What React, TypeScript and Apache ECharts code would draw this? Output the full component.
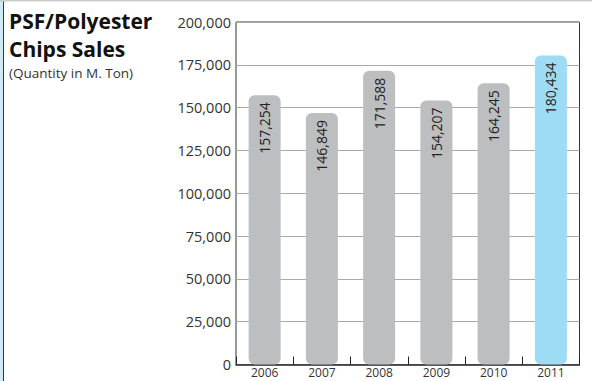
import React, { useEffect, useRef } from "react";
import * as echarts from "echarts";

const categories = ["2006", "2007", "2008", "2009", "2010", "2011"];
const salesValues = [157254, 146849, 171588, 154207, 164245, 180434];
const barColors = ["#bdbebf", "#bdbebf", "#bdbebf", "#bdbebf", "#bdbebf", "#9edcf5"];
const yTicks = [0, 25000, 50000, 75000, 100000, 125000, 150000, 175000, 200000];

const fmt = (v: number) => v.toLocaleString("en-US");

export default function App() {
  const ref = useRef<HTMLDivElement>(null);
  useEffect(() => {
    if (!ref.current) return;
    const chart = echarts.init(ref.current, undefined, { renderer: "svg" });
    const font = "'Open Sans', 'Noto Sans', sans-serif";
    chart.setOption({
      animation: false,
      textStyle: { fontFamily: font },
      grid: {
        left: 236,
        right: 12.5,
        top: 22,
        bottom: 16.5,
        show: true,
        borderColor: "#333",
        borderWidth: 1,
      },
      graphic: [
        { type: "rect", shape: { x: 0, y: 0, width: 3, height: 381 }, style: { fill: "#cfe9f6" } },
        { type: "rect", shape: { x: 3, y: 0, width: 1, height: 381 }, style: { fill: "#3a3a3a" } },
        { type: "rect", shape: { x: 0, y: 0, width: 592, height: 1.5 }, style: { fill: "#cccccc" } },
        {
          type: "text",
          left: 9,
          top: 10,
          style: { text: "PSF/Polyester", font: `bold 21px ${font}`, fill: "#111" },
        },
        {
          type: "text",
          left: 9,
          top: 38,
          style: { text: "Chips Sales", font: `bold 21px ${font}`, fill: "#111" },
        },
        {
          type: "text",
          left: 9,
          top: 66,
          style: { text: "(Quantity in M. Ton)", font: `13.5px ${font}`, fill: "#333" },
        },
      ],
      xAxis: {
        type: "category",
        data: categories,
        axisLine: { show: true, lineStyle: { color: "#222", width: 1.5 } },
        axisTick: { show: true, inside: true, length: 8, lineStyle: { color: "#222" } },
        axisLabel: { color: "#333", fontSize: 12, margin: 2, fontFamily: font },
      },
      yAxis: {
        type: "value",
        min: 0,
        max: 200000,
        interval: 25000,
        axisLine: { show: false },
        axisTick: { show: false },
        splitLine: { show: true, lineStyle: { color: "#aaaaaa", width: 1 } },
        axisLabel: {
          color: "#333",
          fontSize: 14.5,
          margin: 5,
          fontFamily: font,
          formatter: (v: number) => (yTicks.includes(v) ? fmt(v) : ""),
        },
      },
      series: [
        {
          type: "bar",
          barWidth: 32,
          data: salesValues.map((v, i) => ({
            value: v,
            itemStyle: { color: barColors[i], borderRadius: 6 },
          })),
          label: {
            show: true,
            position: "insideTop",
            rotate: 90,
            align: "right",
            verticalAlign: "middle",
            distance: 7,
            color: "#222",
            fontSize: 14,
            fontFamily: font,
            formatter: (p: any) => fmt(p.value),
          },
        },
      ],
    });
    return () => chart.dispose();
  }, []);
  return (
    <div
      ref={ref}
      style={{ position: "fixed", left: 0, top: 0, width: 592, height: 381, background: "#fff" }}
    />
  );
}
